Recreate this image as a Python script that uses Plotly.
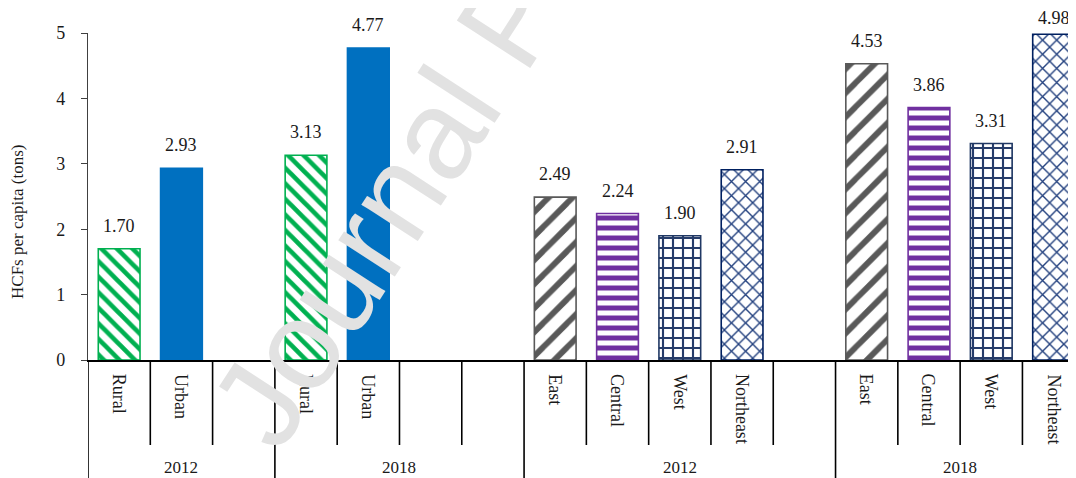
import plotly.graph_objects as go

# ---------------- data ----------------
categories = ["Rural", "Urban", "", "Rural", "Urban", "", "",
              "East", "Central", "West", "Northeast", "",
              "East", "Central", "West", "Northeast"]
values = [1.70, 2.93, None, 3.13, 4.77, None, None,
          2.49, 2.24, 1.90, 2.91, None,
          4.53, 3.86, 3.31, 4.98]
years = ["2012", "2018", "2012", "2018"]
year_spans = [3, 4, 5, 4]
y_ticks = [0, 1, 2, 3, 4, 5]
y_title = "HCFs per capita (tons)"
watermark = "Journal Pre-proof"

# ---------------- styles ----------------
styles = {
    "Rural":     dict(line="#00B050", shape="\\", fg="#00B050", size=11, sol=0.42),
    "Urban":     dict(line="#0070C0", shape="",   fg="#0070C0", size=10, sol=0.3),
    "East":      dict(line="#595959", shape="/",  fg="#595959", size=17, sol=0.35),
    "Central":   dict(line="#7030A0", shape="-",  fg="#7030A0", size=10, sol=0.5),
    "West":      dict(line="#203864", shape="+",  fg="#263C6A", size=10, sol=0.38),
    "Northeast": dict(line="#002060", shape="x",  fg="#22407E", size=10, sol=0.26),
}

FONT = "Liberation Serif, Times New Roman, serif"
Y_MAX = 5
PLOT_H = 327
MARGIN_T = 25

idx = [i for i, v in enumerate(values) if v is not None]
xs = idx
ys = [values[i] for i in idx]
st = [styles[categories[i]] for i in idx]

fig = go.Figure()
fig.add_trace(go.Bar(
    x=xs, y=ys, width=0.67,
    marker=dict(
        color=[s["fg"] for s in st],
        line=dict(color=[s["line"] for s in st], width=1.6),
        pattern=dict(
            shape=[s["shape"] for s in st],
            size=[s["size"] for s in st],
            solidity=[s["sol"] for s in st],
            fillmode="replace",
            bgcolor="white",
            fgopacity=1,
        ),
    ),
    hoverinfo="skip",
    showlegend=False,
))

annotations = []
# value labels (pulled closer to the bar when there is no headroom)
for x, v in zip(xs, ys):
    headroom = (Y_MAX - v) / Y_MAX * PLOT_H + MARGIN_T
    shift = max(4, min(11, headroom - 22))
    annotations.append(dict(
        x=x, y=v, xref="x", yref="y", text=f"{v:.2f}", showarrow=False,
        yanchor="bottom", yshift=shift, font=dict(family=FONT, size=18, color="#1a1a1a")))

# category labels (rotated)
for i, c in enumerate(categories):
    if c:
        annotations.append(dict(
            x=i, y=0, xref="x", yref="y", text=c, showarrow=False, textangle=90,
            yanchor="top", xanchor="center", yshift=-12,
            font=dict(family=FONT, size=18, color="#1a1a1a")))

# year labels + divider shapes
shapes = []
start = 0
bounds_group = [-0.5]
for yr, n in zip(years, year_spans):
    center = start + (n - 1) / 2
    annotations.append(dict(
        x=center, y=0, xref="x", yref="y", text=yr, showarrow=False,
        yanchor="middle", yshift=-107,
        font=dict(family=FONT, size=17, color="#1a1a1a")))
    start += n
    bounds_group.append(start - 0.5)

for b in range(len(categories) + 1):
    xb = b - 0.5
    is_group = xb in bounds_group
    shapes.append(dict(
        type="line", xref="x", yref="paper", x0=xb, x1=xb, y0=0,
        y1=-0.45 if is_group else -0.26,
        line=dict(color="black", width=1.6)))

# y-axis title
annotations.append(dict(
    x=-0.0719, y=0.422, xref="paper", yref="paper", text=y_title, showarrow=False,
    textangle=-90, xanchor="center", yanchor="middle",
    font=dict(family=FONT, size=17, color="#1a1a1a")))

# watermark
annotations.append(dict(
    x=0.426, y=1.04, xref="paper", yref="paper", text=watermark, showarrow=False,
    textangle=-57, xanchor="center", yanchor="middle",
    font=dict(family="Liberation Sans, Arial, sans-serif", size=127, color="#E2E2E2")))

# page has an 8px body margin -> figure is 8px smaller and margins shifted
fig.update_layout(
    width=1068, height=470,
    margin=dict(l=80, r=0, t=MARGIN_T, b=118),
    paper_bgcolor="white", plot_bgcolor="white",
    xaxis=dict(range=[-0.5, 15.36], showticklabels=False, ticks="", showgrid=False,
               zeroline=False, showline=True, linecolor="black", linewidth=1.6,
               fixedrange=True),
    yaxis=dict(range=[0, Y_MAX], tickvals=y_ticks, ticks="outside", ticklen=6,
               tickcolor="#404040", showgrid=False, zeroline=False, showline=True,
               linecolor="#404040", linewidth=1.2, ticklabelstandoff=12,
               tickfont=dict(family=FONT, size=18, color="#1a1a1a"), fixedrange=True),
    annotations=annotations,
    shapes=shapes,
)

fig.write_html("out.html")
